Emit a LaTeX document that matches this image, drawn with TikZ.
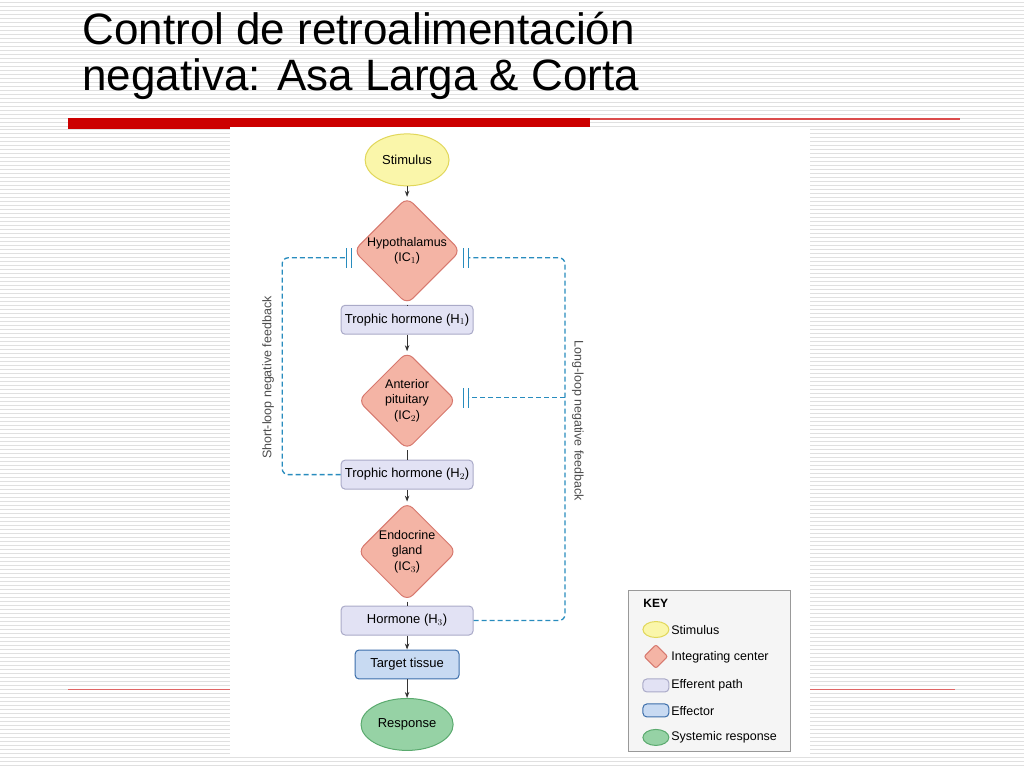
\documentclass[tikz,border=0pt]{standalone}
\usepackage{fontspec}
\setmainfont{Liberation Sans}
\usetikzlibrary{arrows.meta,shapes.geometric}
\definecolor{stimfill}{RGB}{250,246,170}
\definecolor{stimdraw}{RGB}{225,215,90}
\definecolor{icfill}{RGB}{244,180,165}
\definecolor{icdraw}{RGB}{215,120,110}
\definecolor{efffill}{RGB}{226,226,244}
\definecolor{effdraw}{RGB}{170,170,200}
\definecolor{tgtfill}{RGB}{200,218,242}
\definecolor{tgtdraw}{RGB}{60,110,170}
\definecolor{respfill}{RGB}{150,210,165}
\definecolor{respdraw}{RGB}{90,170,110}
\definecolor{fbline}{RGB}{40,140,190}
\definecolor{slidered}{RGB}{204,0,0}
\tikzset{%
  stim/.style={draw=stimdraw, fill=stimfill, ellipse, line width=1pt, minimum width=84pt, minimum height=52pt, font=\fontsize{13}{14}\selectfont},
  center/.style={draw=icdraw, fill=icfill, diamond, line width=1pt, rounded corners=8pt, minimum width=98pt, minimum height=98pt, inner sep=0pt, align=center, font=\fontsize{12.5}{15.5}\selectfont},
  efferent/.style={draw=effdraw, fill=efffill, line width=1pt, rounded corners=4pt, minimum width=132pt, minimum height=29pt, font=\fontsize{13}{14}\selectfont},
  effector/.style={draw=tgtdraw, fill=tgtfill, line width=1pt, rounded corners=4pt, minimum width=104pt, minimum height=29pt, font=\fontsize{13}{14}\selectfont},
  resp/.style={draw=respdraw, fill=respfill, ellipse, line width=1pt, minimum width=84pt, minimum height=52pt, font=\fontsize{13}{14}\selectfont},
  line/.style={draw, black!80, line width=0.9pt, -{Stealth[length=6pt]}},
  feedback/.style={draw=fbline, dashed, line width=1.3pt, dash pattern=on 5pt off 3pt, rounded corners=6pt},
  block/.style={draw=fbline, line width=1.6pt},
  keytext/.style={anchor=west, font=\fontsize{12.5}{13}\selectfont},
}
\begin{document}
\begin{tikzpicture}[x=1pt, y=-1pt]
  % slide background
  \fill[white] (0,0) rectangle (1024,768);
  \foreach \yy in {2,6,...,766}
    \draw[black!12, line width=0.8pt] (0,\yy) -- (1024,\yy);
  \node[anchor=north west, align=left, font=\fontsize{44}{46}\selectfont, inner sep=0pt] (title) at (82,12) {Control de retroalimentación\\negativa: Asa Larga \& Corta};
  \fill[slidered] (68,118) rectangle (590,129);
  \draw[slidered!70, line width=1.2pt] (590,119) -- (960,119);
  \draw[slidered!60, line width=1pt] (68,690) -- (230,690);
  \draw[slidered!60, line width=1pt] (810,690) -- (955,690);
  \fill[white] (230,127) rectangle (810,757);

  % flow
  \node[stim] (stim) at (407,160) {Stimulus};
  \node[center] (ic1) at (407,251) {Hypothalamus\\(IC$_1$)};
  \node[efferent] (h1) at (407,320) {Trophic hormone (H$_1$)};
  \node[center] (ic2) at (407,401) {Anterior\\pituitary\\(IC$_2$)};
  \node[efferent] (h2) at (407,475) {Trophic hormone (H$_2$)};
  \node[center] (ic3) at (407,552) {Endocrine\\gland\\(IC$_3$)};
  \node[efferent] (h3) at (407,621) {Hormone (H$_3$)};
  \node[effector] (tgt) at (407,665) {Target tissue};
  \node[resp] (resp) at (407,725) {Response};
  \path[line] (stim) -- (ic1);
  \draw[black!80, line width=0.9pt] (ic1) -- (h1);
  \path[line] (h1) -- (ic2);
  \draw[black!80, line width=0.9pt] (ic2) -- (h2);
  \path[line] (h2) -- (ic3);
  \draw[black!80, line width=0.9pt] (ic3) -- (h3);
  \path[line] (h3) -- (tgt);
  \path[line] (tgt) -- (resp);

  % feedback loops
  \coordinate (sb) at (349,258);
  \coordinate (lb1) at (466,258);
  \coordinate (lb2) at (466,398);
  \draw[feedback] (h2.west) -| (282,258) -- ([xshift=-3pt]sb);
  \draw[feedback] (h3.east) -| (565,258) -- ([xshift=3pt]lb1);
  \draw[feedback] (565,398) -- ([xshift=3pt]lb2);
  \foreach \c in {sb,lb1,lb2}
    \draw[block] ([xshift=-2.5pt,yshift=-10pt]\c) -- ([xshift=-2.5pt,yshift=10pt]\c)
                 ([xshift=2.5pt,yshift=-10pt]\c) -- ([xshift=2.5pt,yshift=10pt]\c);
  \node[rotate=90, text=black!70, font=\fontsize{12.5}{13}\selectfont] (short) at (268,378) {Short-loop negative feedback};
  \node[rotate=-90, text=black!70, font=\fontsize{12.5}{13}\selectfont] (long) at (578,421) {Long-loop negative feedback};

  % key
  \node[draw=black!40, line width=1pt, fill=black!4, minimum width=162pt, minimum height=162pt, anchor=north west] (key) at (628,590) {};
  \node[keytext, font=\bfseries\fontsize{12}{13}\selectfont] (keyt) at (640,604) {KEY};
  \node[stim, minimum width=26pt, minimum height=16pt] (k1) at (656,630) {};
  \node[keytext] at (668,631) {Stimulus};
  \node[center, minimum width=24pt, minimum height=24pt, rounded corners=2pt] (k2) at (656,657) {};
  \node[keytext] at (668,658) {Integrating center};
  \node[efferent, minimum width=26pt, minimum height=13pt] (k3) at (656,686) {};
  \node[keytext] at (668,686) {Efferent path};
  \node[effector, minimum width=26pt, minimum height=13pt] (k4) at (656,711) {};
  \node[keytext] at (668,712) {Effector};
  \node[resp, minimum width=26pt, minimum height=16pt] (k5) at (656,738) {};
  \node[keytext] at (668,738) {Systemic response};
\end{tikzpicture}
\end{document}
